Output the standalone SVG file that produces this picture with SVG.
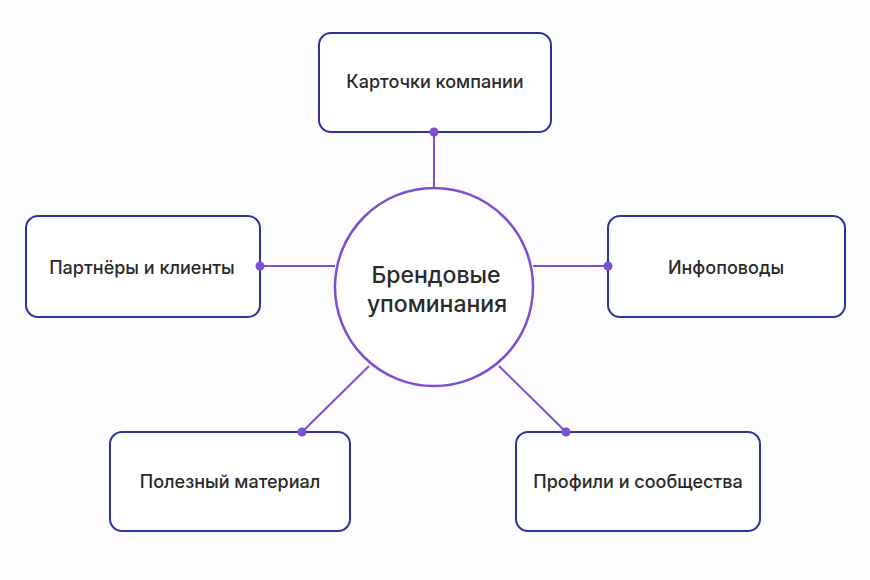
<svg xmlns="http://www.w3.org/2000/svg" width="870" height="580" viewBox="0 0 870 580">
<style>
.box{fill:#fff;stroke:#2e32a0;stroke-width:2}
.lbl{font-family:Inter,"Noto Sans",sans-serif;font-size:18px;font-weight:500;fill:#2a2a2a;text-anchor:middle;dominant-baseline:central}
.c{stroke:#7e4fd0;stroke-width:2;fill:none}
.dot{fill:#7e4fd0}
</style>
<rect width="870" height="580" fill="#fcfcfe"/>
<g id="center">
<circle cx="434" cy="287" r="99" fill="#fff" stroke="#7e4fd0" stroke-width="2.5"/>
<text class="lbl" x="436" y="275" style="font-size:23px">Брендовые</text>
<text class="lbl" x="437" y="304" style="font-size:23px">упоминания</text>
</g>
<g id="top"><rect class="box" x="319" y="33" width="232" height="99" rx="12"/><text class="lbl" x="435" y="81">Карточки компании</text></g>
<g id="left"><rect class="box" x="26" y="216" width="234" height="101" rx="12"/><text class="lbl" x="142" y="267">Партнёры и клиенты</text></g>
<g id="right"><rect class="box" x="608" y="216" width="237" height="101" rx="12"/><text class="lbl" x="726" y="267">Инфоповоды</text></g>
<g id="bl"><rect class="box" x="110" y="432" width="240" height="99" rx="12"/><text class="lbl" x="230" y="481">Полезный материал</text></g>
<g id="br"><rect class="box" x="516" y="432" width="244" height="99" rx="12"/><text class="lbl" x="638" y="481">Профили и сообщества</text></g>
<g id="connectors">
<line class="c" x1="434" y1="187" x2="434" y2="132"/>
<line class="c" x1="335" y1="266" x2="260" y2="266"/>
<line class="c" x1="533" y1="266" x2="608" y2="266"/>
<line class="c" x1="369" y1="366" x2="302" y2="432"/>
<line class="c" x1="499" y1="366" x2="566" y2="432"/>
<circle class="dot" cx="434" cy="132" r="4.5"/>
<circle class="dot" cx="260" cy="266" r="4.5"/>
<circle class="dot" cx="608" cy="266" r="4.5"/>
<circle class="dot" cx="302" cy="432" r="4.5"/>
<circle class="dot" cx="566" cy="432" r="4.5"/>
</g>
</svg>
